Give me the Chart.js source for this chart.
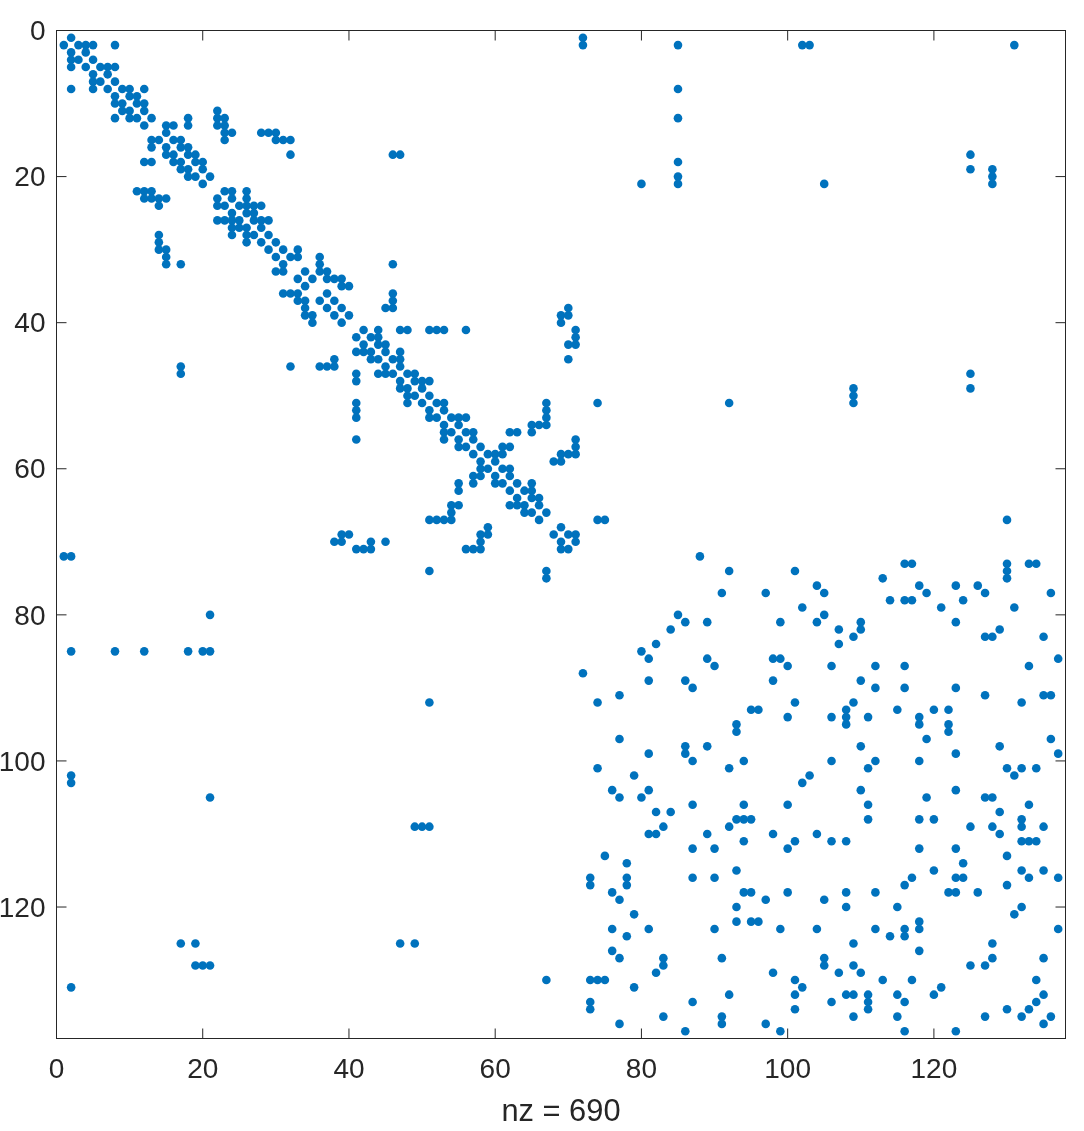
<!DOCTYPE html>
<html>
<head>
<meta charset="utf-8">
<style>
  html, body { margin: 0; padding: 0; background: #fff; }
  canvas { display: block; }
</style>
<script src="https://cdn.jsdelivr.net/npm/chart.js@4"></script>
</head>
<body>
<canvas id="spy" width="1084" height="1131"></canvas>
<script>
// non zero columns of each matrix row, index 0 = row 1
const colsByRow = [
  [2,72],
  [1,3,4,5,8,72,85,102,103,131],
  [2,4],
  [2,3,5],
  [2,4,6,7,8],
  [5,7],
  [5,6,8],
  [2,5,7,9,10,12,85],
  [8,10,11],
  [8,9,11,12],
  [9,10,12,22],
  [8,10,11,13,18,22,23,85],
  [12,15,16,18,22,23],
  [15,23,24,28,29,30],
  [13,14,16,17,23,30,31,32],
  [13,15,17,18],
  [15,16,18,19,32,46,47,125],
  [12,13,16,17,19,20,85],
  [17,18,20,125,128],
  [18,19,21,85,128],
  [20,80,85,105,128],
  [11,12,13,23,24,26],
  [12,13,14,15,22,24,26],
  [14,22,23,25,26,27,28],
  [24,26,27],
  [22,23,24,25,27,28,29],
  [24,25,26,28],
  [14,24,26,27,29],
  [14,26,28,30],
  [14,15,29,31,33],
  [15,30,32,33,36],
  [15,17,31,36,46],
  [30,31,34,36,37],
  [33,35,37,38,39],
  [34,39,40],
  [31,32,33,37,46],
  [33,34,36,38,46],
  [34,37,39,45,46,70],
  [34,35,38,40,69,70],
  [35,39,69],
  [42,44,47,48,51,52,53,56,71],
  [41,43,44,71],
  [42,44,45,70,71],
  [41,42,43,45,47],
  [38,43,44,46,47,70],
  [17,32,36,37,38,45,47],
  [17,41,44,45,46,48,49,125],
  [41,47,49,50,51],
  [47,48,50,109,125],
  [48,49,51,109],
  [41,48,50,52,53,67,74,92,109],
  [41,51,53,67],
  [41,51,52,54,55,56,67],
  [53,55,65,66,67],
  [53,54,56,57,62,63,65],
  [41,53,55,57,71],
  [55,56,58,61,62,71],
  [57,59,60,61,69,70,71],
  [58,60,68,69],
  [58,59,61,62],
  [57,58,60,62],
  [55,57,60,61,63,65],
  [55,62,64,65],
  [63,65,66],
  [54,55,62,63,64,66],
  [54,64,65,67],
  [51,52,53,54,66,74,75,130],
  [59,69],
  [39,40,58,59,68,70,71],
  [38,39,43,45,58,69,71],
  [41,42,43,56,57,58,69,70],
  [1,2,88],
  [116,117,130,133,134],
  [51,67,92,101,130],
  [67,113,130],
  [104,118,123,126],
  [91,97,105,119,127,136],
  [114,116,117,124],
  [102,121,131],
  [21,85,105],
  [86,89,99,104,110,123],
  [84,107,110,129],
  [109,127,128,135],
  [82,107],
  [2,8,12,18,20,21,80],
  [81,89,98,99,137],
  [90,100,106,112,116,133],
  [72],
  [81,86,98,110],
  [87,112,116,123],
  [77,127,135,136],
  [51,74,101,109,132],
  [95,96,108,115,120,122],
  [100,106,108,111,118],
  [93,108,118,122],
  [93,122],
  [77,119,136],
  [86,89,110,129],
  [81,86,123,137],
  [87,94,106,112,118],
  [74,92,111,130,132,134],
  [2,79,103,131],
  [2,102],
  [76,81,110,123],
  [21,77,80,119,127,128],
  [87,94,100,111,133],
  [82,84,129],
  [93,94,95,111,118,120,132],
  [49,50,51,83,92,125,128,132,135],
  [81,82,89,98,104,129],
  [94,101,106,108,132,133,134],
  [87,90,100,118,123],
  [75,130],
  [78,124],
  [93,120,132,135],
  [73,78,87,90,117,123,124,133,137],
  [73,78,116,130],
  [76,94,95,100,108,112,122,123,126],
  [77,97,105],
  [93,108,115,132],
  [79,131],
  [93,95,96,118],
  [76,81,90,99,104,112,116,118,137],
  [78,114,116],
  [17,19,47,49,109,128],
  [76,118],
  [77,83,91,105,128,135],
  [19,20,21,83,105,109,125,127],
  [82,98,107,110],
  [67,73,74,75,101,113,117,134],
  [2,79,102,121],
  [92,101,108,109,111,115,120,135],
  [73,87,106,111,116,134],
  [73,101,111,130,133],
  [83,91,109,115,127,132,136],
  [77,91,97,135],
  [86,99,116,123]
];
const matrixSize = 138;
const tickStep = 20;
const xLabel = 'nz = 690';

const points = [];
colsByRow.forEach((cols, i) => {
    cols.forEach(c => points.push({ x: c, y: i + 1 }));
});

const axisColor = '#262626';
const fontFamily = '"Liberation Sans", Arial, sans-serif';

// matlab style box with ticks pointing inwards
const boxPlugin = {
    id: 'box',
    afterDatasetsDraw(chart) {
        const { ctx, chartArea: a, scales } = chart;
        const len = 10;
        ctx.save();
        ctx.strokeStyle = axisColor;
        ctx.lineWidth = 1;
        ctx.strokeRect(a.left, a.top, a.right - a.left, a.bottom - a.top);
        ctx.beginPath();
        scales.x.ticks.forEach(t => {
            const px = scales.x.getPixelForValue(t.value);
            ctx.moveTo(px, a.bottom);
            ctx.lineTo(px, a.bottom - len);
            ctx.moveTo(px, a.top);
            ctx.lineTo(px, a.top + len);
        });
        scales.y.ticks.forEach(t => {
            const py = scales.y.getPixelForValue(t.value);
            ctx.moveTo(a.left, py);
            ctx.lineTo(a.left + len, py);
            ctx.moveTo(a.right, py);
            ctx.lineTo(a.right - len, py);
        });
        ctx.stroke();
        ctx.restore();
    }
};

new Chart(document.getElementById('spy').getContext('2d'), {
    type: 'scatter',
    data: {
        datasets: [{
            data: points,
            pointRadius: 4.3,
            pointBorderWidth: 0,
            backgroundColor: '#0072BD',
            clip: false
        }]
    },
    options: {
        responsive: false,
        animation: false,
        layout: { padding: { top: 30.5, right: 18.5, left: 0, bottom: 0 } },
        plugins: { legend: { display: false }, tooltip: { enabled: false } },
        scales: {
            x: {
                type: 'linear',
                min: 0,
                max: matrixSize,
                afterFit: s => { s.height = 92.5; },
                grid: { display: false, drawTicks: false },
                border: { display: false },
                ticks: {
                    stepSize: tickStep,
                    includeBounds: false,
                    maxRotation: 0,
                    padding: 15,
                    color: axisColor,
                    font: { family: fontFamily, size: 28 }
                },
                title: {
                    display: true,
                    text: xLabel,
                    color: axisColor,
                    padding: { top: 0, bottom: 0 },
                    font: { family: fontFamily, size: 30.8 }
                }
            },
            y: {
                type: 'linear',
                reverse: true,
                min: 0,
                max: matrixSize,
                afterFit: s => { s.width = 56.5; },
                grid: { display: false, drawTicks: false },
                border: { display: false },
                ticks: {
                    stepSize: tickStep,
                    includeBounds: false,
                    padding: 11,
                    labelOffset: 2,
                    color: axisColor,
                    font: { family: fontFamily, size: 28 }
                }
            }
        }
    },
    plugins: [boxPlugin]
});
</script>
</body>
</html>
